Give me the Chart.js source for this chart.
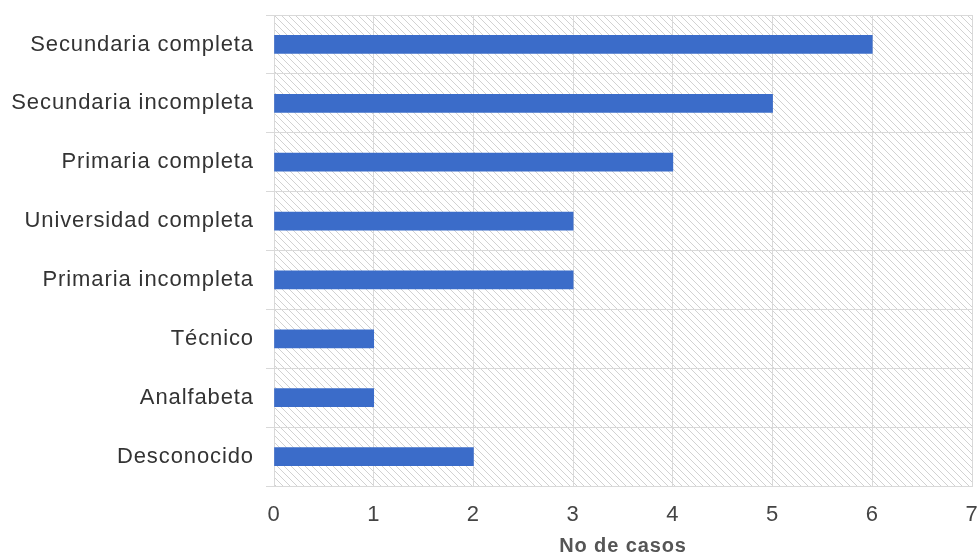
<!DOCTYPE html>
<html>
<head>
<meta charset="utf-8">
<script src="https://cdn.jsdelivr.net/npm/chart.js@4/dist/chart.umd.min.js"></script>
<style>
  html, body { margin: 0; padding: 0; background: #fff; }
  #wrap { width: 979px; height: 558px; }
</style>
</head>
<body>
<div id="wrap"><canvas id="chart" width="979" height="558"></canvas></div>
<script>
// Nivel educativo y número de casos
const categorias = [
    'Secundaria completa',
    'Secundaria incompleta',
    'Primaria completa',
    'Universidad completa',
    'Primaria incompleta',
    'Técnico',
    'Analfabeta',
    'Desconocido'
];
const casos = [6, 5, 4, 3, 3, 1, 1, 2];
const ticksX = [0, 1, 2, 3, 4, 5, 6, 7];

// Fondo rayado del área del gráfico
function crearTrama() {
    const c = document.createElement('canvas');
    c.width = 7;
    c.height = 7;
    const ctx = c.getContext('2d');
    ctx.fillStyle = '#ffffff';
    ctx.fillRect(0, 0, 7, 7);
    ctx.strokeStyle = '#d2d2d2';
    ctx.lineWidth = 1;
    ctx.beginPath();
    ctx.moveTo(-1, -1); ctx.lineTo(8, 8);
    ctx.moveTo(-1, 6); ctx.lineTo(1, 8);
    ctx.moveTo(6, -1); ctx.lineTo(8, 1);
    ctx.stroke();
    return c;
}

const fondoRayado = {
    id: 'fondoRayado',
    beforeDraw(chart) {
        const { ctx, chartArea } = chart;
        ctx.save();
        ctx.fillStyle = ctx.createPattern(crearTrama(), 'repeat');
        ctx.fillRect(chartArea.left, chartArea.top, chartArea.right - chartArea.left, chartArea.bottom - chartArea.top);
        ctx.restore();
    }
};

// Texto algo más espaciado
const espaciado = {
    id: 'espaciado',
    beforeUpdate(chart) {
        chart.ctx.letterSpacing = '0.9px';
    },
    beforeDraw(chart) {
        chart.ctx.letterSpacing = '0.9px';
    }
};

const fuente = "'Liberation Sans', Arial, sans-serif";

new Chart(document.getElementById('chart'), {
    type: 'bar',
    data: {
        labels: categorias,
        datasets: [{
            label: 'No de casos',
            data: casos,
            backgroundColor: '#3b6cc9',
            barThickness: 18
        }]
    },
    plugins: [espaciado, fondoRayado],
    options: {
        indexAxis: 'y',
        responsive: false,
        animation: false,
        layout: {
            padding: { top: 15, right: 7, left: 0, bottom: 0 }
        },
        scales: {
            x: {
                min: 0,
                max: 7,
                afterBuildTicks(scale) {
                    scale.ticks = ticksX.map(v => ({ value: v }));
                },
                afterFit(scale) {
                    scale.height = 72;
                    scale.paddingLeft = 0;
                    scale.paddingRight = 0;
                },
                grid: {
                    color: '#d9d9d9',
                    drawTicks: false
                },
                border: { color: '#d9d9d9' },
                ticks: {
                    padding: 16,
                    color: '#444',
                    font: { family: fuente, size: 22 }
                },
                title: {
                    display: true,
                    text: 'No de casos',
                    color: '#555',
                    padding: { top: 4, bottom: 0 },
                    font: { family: fuente, size: 20, weight: 'bold' }
                }
            },
            y: {
                afterFit(scale) {
                    scale.width = 274;
                    scale.paddingTop = 0;
                    scale.paddingBottom = 0;
                },
                grid: {
                    color: '#d9d9d9',
                    offset: true,
                    tickLength: 8
                },
                border: { color: '#d9d9d9' },
                ticks: {
                    padding: 12,
                    color: '#333',
                    font: { family: fuente, size: 22 }
                }
            }
        },
        plugins: {
            legend: { display: false },
            tooltip: { enabled: false }
        }
    }
});
</script>
</body>
</html>
